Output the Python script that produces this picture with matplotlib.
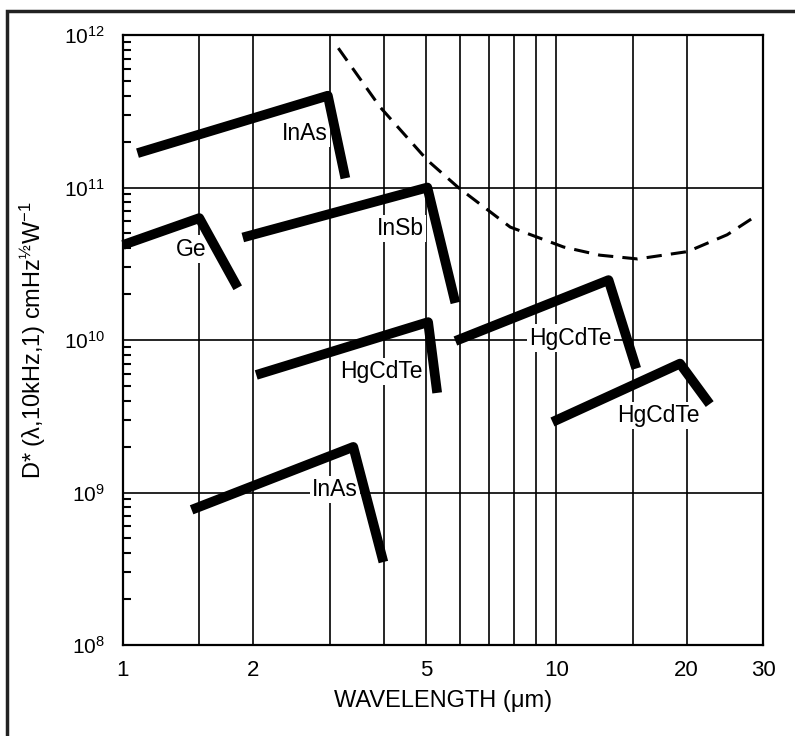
import numpy as np
import matplotlib
matplotlib.use('Agg')
import matplotlib.pyplot as plt
from matplotlib.patches import Rectangle
from matplotlib.ticker import NullFormatter

plt.rcParams['font.family'] = ['Liberation Sans', 'DejaVu Sans']
plt.rcParams['mathtext.fontset'] = 'custom'
plt.rcParams['mathtext.rm'] = 'Liberation Sans'
plt.rcParams['mathtext.it'] = 'Liberation Sans:italic'

# detector curves: start, peak, cutoff  (wavelength um, D*)
inas_hi_x = [1.08, 2.97, 3.26]
inas_hi_y = [1.68e11, 4.0e11, 1.15e11]
ge_x = [1.0, 1.5, 1.84]
ge_y = [4.2e10, 6.3e10, 2.2e10]
insb_x = [1.89, 5.04, 5.85]
insb_y = [4.7e10, 1.0e11, 1.75e10]
hgcdte1_x = [2.03, 5.06, 5.31]
hgcdte1_y = [5.9e9, 1.31e10, 4.5e9]
hgcdte2_x = [5.85, 13.2, 15.3]
hgcdte2_y = [9.85e9, 2.47e10, 6.5e9]
hgcdte3_x = [9.8, 19.3, 22.6]
hgcdte3_y = [2.9e9, 7.0e9, 3.8e9]
inas_lo_x = [1.44, 3.4, 3.99]
inas_lo_y = [7.7e8, 1.99e9, 3.5e8]

# background limit (dashed)
blip_x = [3.14, 3.92, 5.04, 5.94, 7.83, 10.4, 12.6, 15.4, 20.1, 24.8, 28.4]
blip_y = [8.2e11, 3.37e11, 1.51e11, 1.0e11, 5.5e10, 4.07e10, 3.6e10,
          3.4e10, 3.8e10, 4.9e10, 6.3e10]

xticks = [1, 2, 5, 10, 20, 30]
xgrid = [1.5, 3, 4, 6, 7, 8, 9, 15]

fig = plt.figure(figsize=(7.95, 7.36), dpi=100)
ax = fig.add_axes([123/795, 1-645/736, 640/795, 610/736])
ax.set_xscale('log')
ax.set_yscale('log')
ax.set_xlim(1, 30)
ax.set_ylim(1e8, 1e12)

curves = [(inas_hi_x, inas_hi_y), (ge_x, ge_y), (insb_x, insb_y),
          (hgcdte1_x, hgcdte1_y), (hgcdte2_x, hgcdte2_y),
          (hgcdte3_x, hgcdte3_y), (inas_lo_x, inas_lo_y)]
for cx, cy in curves:
    ax.plot(cx, cy, color='black', lw=7, solid_joinstyle='round',
            solid_capstyle='butt', zorder=4, clip_on=False)

ax.plot(blip_x, blip_y, color='black', lw=2.2, ls=(0, (5, 3)), zorder=4)

labels = [('InAs', 2.63, 2.27e11), ('Ge', 1.44, 3.95e10), ('InSb', 4.36, 5.4e10),
          ('HgCdTe', 3.94, 6.2e9), ('HgCdTe', 10.8, 1.03e10),
          ('HgCdTe', 17.2, 3.2e9), ('InAs', 3.09, 1.04e9)]
for txt, lx, ly in labels:
    ax.text(lx, ly, txt, fontsize=16.5, ha='center', va='center', zorder=3,
            bbox=dict(facecolor='white', edgecolor='none', pad=1.5))

# grid
ax.set_xticks(xticks)
ax.set_xticklabels([str(t) for t in xticks])
ax.set_xticks(xgrid, minor=True)
ax.xaxis.set_minor_formatter(NullFormatter())
ax.tick_params(axis='x', which='both', length=0, pad=11, labelsize=16)
ax.tick_params(axis='y', which='major', length=0, pad=13, labelsize=15)
ax.tick_params(axis='y', which='minor', direction='in', length=6, width=1.5,
               left=True)
ax.grid(True, which='major', color='black', lw=1.2)
ax.grid(True, which='minor', axis='x', color='black', lw=1.2)
ax.set_axisbelow(True)
for s in ax.spines.values():
    s.set_linewidth(1.6)

ax.set_xlabel('WAVELENGTH (\u03bcm)', fontsize=17, labelpad=6)
ax.set_ylabel('D* (\u03bb,10kHz,1) cmHz$^{\u00bd}$W$^{-1}$', fontsize=17)
ax.yaxis.set_label_coords(-0.117, 0.5)

# outer frame
fig.patches.append(Rectangle((7/795, -0.05), 1.0, 1 - 11/736 + 0.05,
                             transform=fig.transFigure, fill=False,
                             edgecolor='#222222', lw=2.5))

fig.savefig('out.png', dpi=100)
